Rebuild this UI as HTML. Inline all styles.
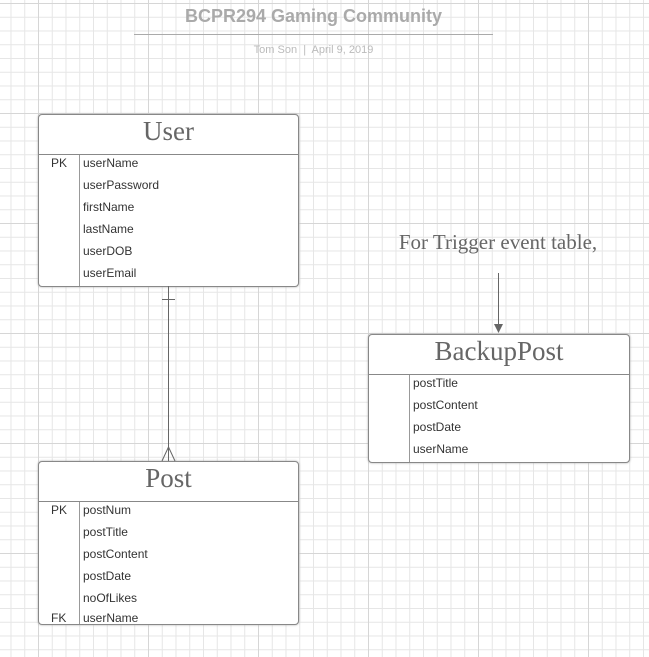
<!DOCTYPE html>
<html><head><style>
body{margin:0;width:649px;height:657px;overflow:hidden;position:relative;font-family:"Liberation Sans",sans-serif;
background-color:#fff;
background-image:
linear-gradient(to right,#d6d6d6 1px,transparent 1px),
linear-gradient(to bottom,#d6d6d6 1px,transparent 1px),
linear-gradient(to right,#e6e6e6 1px,transparent 1px),
linear-gradient(to bottom,#e6e6e6 1px,transparent 1px);
background-size:110px 110px,110px 110px,13.75px 13.75px,13.75px 13.75px;
background-position:38px 3px,38px 3px,10.5px 3px,10.5px 3px;}
.t{position:absolute;}
.box{position:absolute;background:#fff;border:1px solid #888;border-radius:4px;box-shadow:0 0 2px #aaa;}
.hd{height:39px;border-bottom:1px solid #888;text-align:center;font-family:"Liberation Serif",serif;font-size:27px;color:#666;line-height:33px;}
.row{position:absolute;font-size:12px;color:#333;}
.div{position:absolute;left:40px;top:40px;bottom:0;border-left:1px solid #999;}
</style></head><body>
<div class="t" style="left:0;width:627px;top:6px;text-align:center;font-size:18px;font-weight:bold;color:#aaa">BCPR294 Gaming Community</div>
<div class="t" style="left:134px;width:359px;top:34px;border-top:1px solid #aaa"></div>
<div class="t" style="left:0;width:627px;top:44px;text-align:center;font-size:11px;color:#bbb">Tom Son &nbsp;|&nbsp; April 9, 2019</div>

<div class="box" style="left:38px;top:114px;width:259px;height:171px">
<div class="hd">User</div><div class="div"></div>
<div class="row" style="left:12px;top:41px">PK</div>
<div class="row" style="left:44px;top:41px">userName</div>
<div class="row" style="left:44px;top:63px">userPassword</div>
<div class="row" style="left:44px;top:85px">firstName</div>
<div class="row" style="left:44px;top:107px">lastName</div>
<div class="row" style="left:44px;top:129px">userDOB</div>
<div class="row" style="left:44px;top:151px">userEmail</div>
</div>

<div class="box" style="left:38px;top:461px;width:259px;height:162px">
<div class="hd">Post</div><div class="div"></div>
<div class="row" style="left:12px;top:41px">PK</div>
<div class="row" style="left:12px;top:149px">FK</div>
<div class="row" style="left:44px;top:41px">postNum</div>
<div class="row" style="left:44px;top:63px">postTitle</div>
<div class="row" style="left:44px;top:85px">postContent</div>
<div class="row" style="left:44px;top:107px">postDate</div>
<div class="row" style="left:44px;top:129px">noOfLikes</div>
<div class="row" style="left:44px;top:149px">userName</div>
</div>

<div class="box" style="left:368px;top:334px;width:260px;height:127px">
<div class="hd">BackupPost</div><div class="div"></div>
<div class="row" style="left:44px;top:41px">postTitle</div>
<div class="row" style="left:44px;top:63px">postContent</div>
<div class="row" style="left:44px;top:85px">postDate</div>
<div class="row" style="left:44px;top:107px">userName</div>
</div>

<div class="t" style="left:368px;width:260px;top:230px;text-align:center;font-family:'Liberation Serif',serif;font-size:21px;color:#666">For Trigger event table,</div>

<svg class="t" style="left:0;top:0" width="649" height="657">
<g stroke="#666" fill="none" stroke-width="1">
<line x1="168.5" y1="286" x2="168.5" y2="461"/>
<line x1="162" y1="299.5" x2="175" y2="299.5"/>
<line x1="162" y1="461" x2="168.5" y2="447"/>
<line x1="175" y1="461" x2="168.5" y2="447"/>
<line x1="498.5" y1="273" x2="498.5" y2="326"/>
</g>
<polygon points="494,324 503,324 498.5,333" fill="#666"/>
</svg>
</body></html>
